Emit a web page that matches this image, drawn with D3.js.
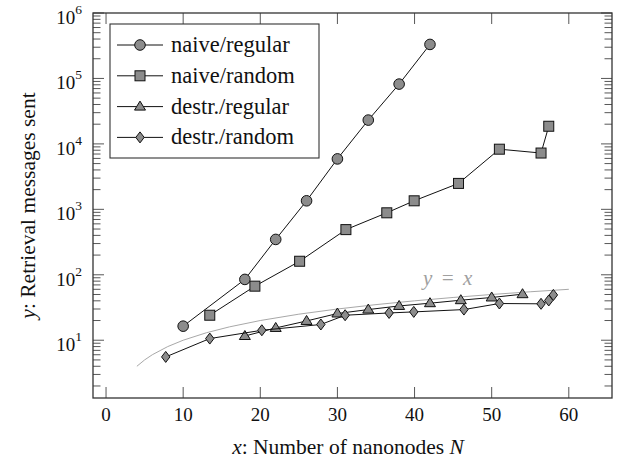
<!DOCTYPE html>
<html>
<head>
<meta charset="utf-8">
<script src="https://cdn.jsdelivr.net/npm/d3@7"></script>
<style>
  body { margin: 0; background: #fff; }
</style>
</head>
<body>
<div id="chart"></div>
<script>
// series data
const naiveRegularX = [10, 18, 22, 26, 30, 34, 38, 42];
const naiveRegularY = [16.4, 85, 347, 1350, 5900, 23100, 82000, 331000];

const naiveRandomX = [13.45, 19.3, 25.1, 31.1, 36.4, 39.95, 45.7, 51.0, 56.4, 57.4];
const naiveRandomY = [24.1, 67, 161, 490, 885, 1350, 2490, 8300, 7250, 18600];

const destrRegularX = [18, 22, 26, 30, 34, 38, 42, 46, 50, 54];
const destrRegularY = [11.6, 15.4, 19.7, 25.6, 29.4, 33.4, 36.8, 40.9, 45, 50.5];

const destrRandomX = [7.74, 13.45, 20.2, 27.85, 31.0, 36.7, 39.9, 46.4, 51.0, 56.4, 57.4, 58.0];
const destrRandomY = [5.56, 10.6, 14.2, 17.4, 24.1, 26.1, 27.1, 29.4, 36.4, 36.0, 40.5, 49.2];

const identityX = [4, 5, 6, 8, 10, 13, 16, 20, 25, 30, 35, 40, 45, 50, 55, 60];

const seriesNames = ["naive/regular", "naive/random", "destr./regular", "destr./random"];
const seriesMarks = ["circle", "square", "triangle", "diamond"];
const xTicks = [0, 10, 20, 30, 40, 50, 60];
const yTickExps = [1, 2, 3, 4, 5, 6];

const W = 621, H = 461;
const margin = {top: 13, right: 9, bottom: 63, left: 93};
const serif = "'Liberation Serif', 'DejaVu Serif', 'Times New Roman', Times, serif";

const svg = d3.select("#chart").append("svg")
    .attr("width", W)
    .attr("height", H)
    .attr("font-family", serif)
    .style("font-family", serif);

const x = d3.scaleLinear()
    .domain([-1.69, 65.6])
    .range([margin.left, W - margin.right]);

const y = d3.scaleLog()
    .domain([1.31, 1e6])
    .range([H - margin.bottom, margin.top]);

const x0 = margin.left, x1 = W - margin.right;
const y0 = H - margin.bottom, y1 = margin.top;

// ticks, drawn inward on all four sides
const ticks = svg.append("g").attr("stroke", "#444").attr("stroke-width", 0.9);

xTicks.forEach(t => {
    ticks.append("line").attr("x1", x(t)).attr("x2", x(t)).attr("y1", y0).attr("y2", y0 - 11);
    ticks.append("line").attr("x1", x(t)).attr("x2", x(t)).attr("y1", y1).attr("y2", y1 + 11);
});

for (let e = 0; e <= 6; e++) {
    for (let k = 1; k <= 9; k++) {
        const v = k * Math.pow(10, e);
        if (v < y.domain()[0] || v > y.domain()[1]) continue;
        const len = k === 1 ? 11 : 7.5;
        ticks.append("line").attr("x1", x0).attr("x2", x0 + len).attr("y1", y(v)).attr("y2", y(v));
        ticks.append("line").attr("x1", x1).attr("x2", x1 - len).attr("y1", y(v)).attr("y2", y(v));
    }
}

// tick labels
svg.append("g").selectAll("text")
    .data(xTicks)
    .join("text")
    .attr("x", d => x(d))
    .attr("y", 421)
    .attr("text-anchor", "middle")
    .attr("font-size", 19)
    .attr("fill", "#111")
    .text(d => d);

const yl = svg.append("g").selectAll("text")
    .data(yTickExps)
    .join("text")
    .attr("x", 82)
    .attr("y", d => y(Math.pow(10, d)) + 11)
    .attr("text-anchor", "end")
    .attr("font-size", 19)
    .attr("fill", "#111");
yl.append("tspan").text("10");
yl.append("tspan").attr("dy", -10).attr("font-size", 13.5).text(d => d);

// axis titles
const xt = svg.append("text")
    .attr("x", 348)
    .attr("y", 454)
    .attr("text-anchor", "middle")
    .attr("font-size", 21.5)
    .attr("fill", "#111");
xt.append("tspan").attr("font-style", "italic").text("x");
xt.append("tspan").text(": Number of nanonodes ");
xt.append("tspan").attr("font-style", "italic").text("N");

const yt = svg.append("text")
    .attr("transform", `translate(35,${(y0 + y1) / 2}) rotate(-90)`)
    .attr("text-anchor", "middle")
    .attr("font-size", 21.5)
    .attr("fill", "#111");
yt.append("tspan").attr("font-style", "italic").text("y");
yt.append("tspan").text(": Retrieval messages sent");

// y = x reference curve
svg.append("path")
    .datum(identityX)
    .attr("fill", "none")
    .attr("stroke", "#a8a8a8")
    .attr("stroke-width", 1)
    .attr("d", d3.line().x(d => x(d)).y(d => y(d)));

svg.append("text")
    .attr("x", x(44.3))
    .attr("y", 285)
    .attr("text-anchor", "middle")
    .attr("font-size", 21)
    .attr("font-style", "italic")
    .attr("word-spacing", 3)
    .attr("fill", "#a0a0a0")
    .text("y = x");

// marker shapes
function drawMark(g, kind, cx, cy) {
    let m;
    if (kind === "circle") {
        m = g.append("circle").attr("cx", cx).attr("cy", cy).attr("r", 5.3);
    } else if (kind === "square") {
        m = g.append("rect").attr("x", cx - 5).attr("y", cy - 5).attr("width", 10).attr("height", 10);
    } else if (kind === "triangle") {
        m = g.append("path").attr("d", `M${cx},${cy - 5.5}L${cx + 5.5},${cy + 3.5}L${cx - 5.5},${cy + 3.5}Z`);
    } else {
        m = g.append("path").attr("d", `M${cx},${cy - 5.5}L${cx + 4.2},${cy}L${cx},${cy + 5.5}L${cx - 4.2},${cy}Z`);
    }
    m.attr("fill", "#8c8c8c").attr("stroke", "#111").attr("stroke-width", 1);
}

const allSeries = [
    [naiveRegularX, naiveRegularY],
    [naiveRandomX, naiveRandomY],
    [destrRegularX, destrRegularY],
    [destrRandomX, destrRandomY]
];

const line = d3.line().x(d => x(d[0])).y(d => y(d[1]));

allSeries.forEach((s, i) => {
    const pts = s[0].map((v, j) => [v, s[1][j]]);
    const g = svg.append("g");
    g.append("path")
        .datum(pts)
        .attr("fill", "none")
        .attr("stroke", "#111")
        .attr("stroke-width", 1)
        .attr("d", line);
    pts.forEach(p => drawMark(g, seriesMarks[i], x(p[0]), y(p[1])));
});

// frame
svg.append("rect")
    .attr("x", x0).attr("y", y1)
    .attr("width", x1 - x0).attr("height", y0 - y1)
    .attr("fill", "none")
    .attr("stroke", "#333")
    .attr("stroke-width", 1.3);

// legend
const legend = svg.append("g");
legend.append("rect")
    .attr("x", 110).attr("y", 24)
    .attr("width", 209).attr("height", 134)
    .attr("fill", "#fff")
    .attr("stroke", "#333")
    .attr("stroke-width", 1.1);

seriesNames.forEach((name, i) => {
    const cy = 45 + i * 30.8;
    legend.append("line")
        .attr("x1", 117).attr("x2", 163)
        .attr("y1", cy).attr("y2", cy)
        .attr("stroke", "#111").attr("stroke-width", 1);
    drawMark(legend, seriesMarks[i], 140, cy);
    legend.append("text")
        .attr("x", 171)
        .attr("y", cy + 7)
        .attr("font-size", 22.5)
        .attr("fill", "#111")
        .text(name);
});
</script>
</body>
</html>
